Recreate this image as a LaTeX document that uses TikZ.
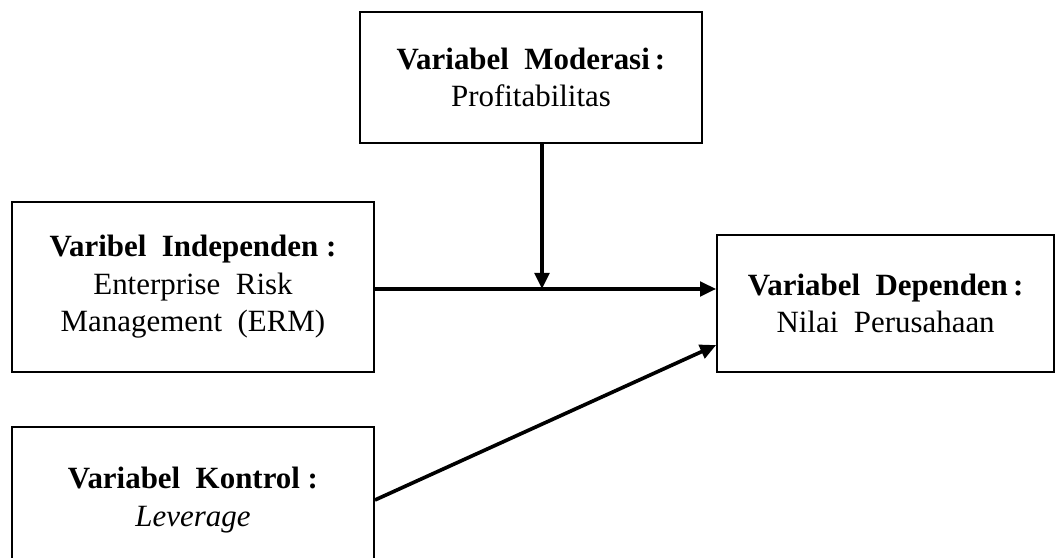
\documentclass[tikz,border=0pt]{standalone}
\usepackage{fontspec}
\setmainfont{Liberation Serif}
\usepackage{tikz}
\usetikzlibrary{arrows.meta}

\begin{document}
\begin{tikzpicture}[
      box/.style={draw,line width=1.4pt,
                  font=\fontsize{22}{26.7}\selectfont,
                  align=center,inner sep=4pt},
      arr/.style={-{Triangle[length=0.4cm,width=0.36cm]},line width=2.6pt}]
    \useasboundingbox (0,0) rectangle (26.375,13.95);
    \node[box,minimum width=8.55cm,minimum height=3.275cm] (mod) at (13.275,12.01)
      {\textbf{Variabel\ \ Moderasi\,:}\\Profitabilitas};
    \node[box,minimum width=9.05cm,minimum height=4.25cm] (ind) at (4.825,6.775)
      {\textbf{Varibel\ \ Independen\ :}\\Enterprise\ \ Risk\\Management\ \ (ERM)};
    \node[box,minimum width=8.425cm,minimum height=3.425cm] (dep) at (22.14,6.36)
      {\textbf{Variabel\ \ Dependen\,:}\\Nilai\ \ Perusahaan};
    \node[box,minimum width=9.05cm,minimum height=3.65cm] (kon) at (4.825,1.45)
      {\textbf{Variabel\ \ Kontrol\ :}\\\textit{Leverage}};
    \coordinate (join) at (13.55,6.725);
    \draw[arr] (mod.south -| join) -- (join);
    \draw[arr] (ind.east |- join) -- (dep.west |- join);
    \draw[arr] (kon.east) -- ([yshift=0.7cm]dep.south west);
  \end{tikzpicture}
\end{document}
